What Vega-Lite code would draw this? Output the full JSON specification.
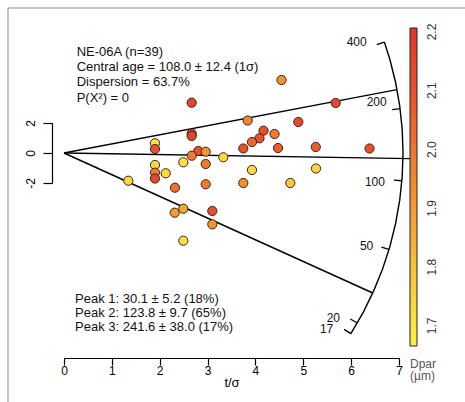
{
  "$schema": "https://vega.github.io/schema/vega-lite/v6.json",
  "width": 335,
  "height": 60,
  "autosize": {"type": "none"},
  "padding": {"left": 64, "top": 123, "right": 66, "bottom": 219},
  "background": "white",
  "config": {
    "view": {"stroke": null},
    "font": "Liberation Sans",
    "text": {"font": "Liberation Sans"},
    "style": {"guide-label": {"angle": -90}}
  },
  "datasets": {
    "grains": [
      {"x": 2.668, "y": 3.353, "dpar": 2.17},
      {"x": 4.545, "y": 4.867, "dpar": 1.93},
      {"x": 5.677, "y": 3.333, "dpar": 2.15},
      {"x": 3.838, "y": 2.167, "dpar": 1.97},
      {"x": 4.896, "y": 2.067, "dpar": 2.15},
      {"x": 4.169, "y": 1.487, "dpar": 2.13},
      {"x": 4.399, "y": 1.267, "dpar": 2.0},
      {"x": 4.085, "y": 0.98, "dpar": 2.12},
      {"x": 3.928, "y": 0.733, "dpar": 2.05},
      {"x": 3.747, "y": 0.3, "dpar": 2.12},
      {"x": 4.472, "y": 0.333, "dpar": 2.08},
      {"x": 5.261, "y": 0.4, "dpar": 2.07},
      {"x": 6.384, "y": 0.3, "dpar": 2.13},
      {"x": 2.668, "y": 1.3, "dpar": 2.2},
      {"x": 2.668, "y": 1.133, "dpar": 2.17},
      {"x": 1.901, "y": 0.647, "dpar": 1.73},
      {"x": 1.901, "y": 0.267, "dpar": 2.12},
      {"x": 2.806, "y": 0.133, "dpar": 2.12},
      {"x": 2.961, "y": 0.087, "dpar": 1.93},
      {"x": 2.668, "y": -0.18, "dpar": 2.0},
      {"x": 3.329, "y": -0.287, "dpar": 1.75},
      {"x": 2.493, "y": -0.62, "dpar": 1.73},
      {"x": 2.961, "y": -0.733, "dpar": 2.0},
      {"x": 1.901, "y": -0.8, "dpar": 1.75},
      {"x": 1.901, "y": -1.313, "dpar": 2.0},
      {"x": 1.901, "y": -1.7, "dpar": 2.15},
      {"x": 2.125, "y": -1.353, "dpar": 1.74},
      {"x": 3.928, "y": -1.133, "dpar": 1.75},
      {"x": 5.266, "y": -1.033, "dpar": 1.76},
      {"x": 2.319, "y": -2.313, "dpar": 2.03},
      {"x": 2.961, "y": -2.087, "dpar": 2.0},
      {"x": 3.747, "y": -2.0, "dpar": 1.95},
      {"x": 4.729, "y": -2.0, "dpar": 1.8},
      {"x": 2.313, "y": -3.98, "dpar": 1.92},
      {"x": 2.493, "y": -3.713, "dpar": 1.88},
      {"x": 3.099, "y": -3.867, "dpar": 2.12},
      {"x": 3.099, "y": -4.753, "dpar": 1.93},
      {"x": 2.493, "y": -5.847, "dpar": 1.73},
      {"x": 1.344, "y": -1.847, "dpar": 1.75}
    ],
    "segments": [
      {"x": 0, "y": 0, "x2": 6.959, "y2": 4.226},
      {"x": 0, "y": 0, "x2": 7.23, "y2": -0.375},
      {"x": 0, "y": 0, "x2": 6.452, "y2": -9.334},
      {"x": 6.694, "y": 7.395, "x2": 6.536, "y2": 7.22},
      {"x": 7.023, "y": 2.958, "x2": 6.857, "y2": 2.888},
      {"x": 7.06, "y": -1.851, "x2": 6.893, "y2": -1.807},
      {"x": 6.792, "y": -6.423, "x2": 6.632, "y2": -6.271},
      {"x": 6.129, "y": -11.334, "x2": 5.984, "y2": -11.066},
      {"x": 5.994, "y": -12.044, "x2": 5.853, "y2": -11.759}
    ],
    "frame": [
      {"x": -1.17, "y": 9.667, "x2": -1.17, "y2": -16.6},
      {"x": -1.17, "y": 9.667, "x2": 8.38, "y2": 9.667}
    ],
    "arc": [
      {"o": 1, "x": 6.694, "y": 7.395},
      {"o": 2, "x": 6.81, "y": 6.229},
      {"o": 3, "x": 6.929, "y": 4.699},
      {"o": 4, "x": 7.015, "y": 3.146},
      {"o": 5, "x": 7.067, "y": 1.577},
      {"o": 6, "x": 7.084, "y": 0},
      {"o": 7, "x": 7.067, "y": -1.577},
      {"o": 8, "x": 7.015, "y": -3.146},
      {"o": 9, "x": 6.929, "y": -4.699},
      {"o": 10, "x": 6.81, "y": -6.229},
      {"o": 11, "x": 6.657, "y": -7.729},
      {"o": 12, "x": 6.471, "y": -9.192},
      {"o": 13, "x": 6.255, "y": -10.611},
      {"o": 14, "x": 5.994, "y": -12.044}
    ],
    "arcLabels": [
      {"label": "400", "x": 6.325, "y": 7.42},
      {"label": "200", "x": 6.743, "y": 3.367},
      {"label": "100", "x": 6.707, "y": -1.933},
      {"label": "50", "x": 6.463, "y": -6.2},
      {"label": "20", "x": 5.767, "y": -11.033},
      {"label": "17", "x": 5.627, "y": -11.733}
    ],
    "notes": [
      {"label": "NE-06A (n=39)", "x": 0.265, "y": 6.753},
      {"label": "Central age = 108.0 ± 12.4 (1σ)", "x": 0.265, "y": 5.753},
      {"label": "Dispersion = 63.7%", "x": 0.265, "y": 4.753},
      {"label": "P(X²) = 0", "x": 0.265, "y": 3.67},
      {"label": "Peak 1: 30.1 ± 5.2 (18%)", "x": 0.23, "y": -9.753},
      {"label": "Peak 2: 123.8 ± 9.7 (65%)", "x": 0.23, "y": -10.687},
      {"label": "Peak 3: 241.6 ± 38.0 (17%)", "x": 0.23, "y": -11.62}
    ]
  },
  "encoding": {
    "x": {
      "field": "x",
      "type": "quantitative",
      "scale": {"domain": [0, 7], "nice": false, "zero": false},
      "axis": {
        "title": "t/σ",
        "offset": 175,
        "values": [0, 1, 2, 3, 4, 5, 6, 7],
        "format": "d",
        "grid": false,
        "tickSize": 7,
        "tickWidth": 1.2,
        "tickColor": "#000",
        "domainColor": "#000",
        "domainWidth": 1.2,
        "labelAngle": 0,
        "labelPadding": 0,
        "labelFontSize": 12,
        "labelColor": "#000",
        "labelFlush": false,
        "titleFontSize": 13,
        "titleFontWeight": "normal",
        "titleColor": "#000",
        "titlePadding": 0
      }
    },
    "y": {
      "field": "y",
      "type": "quantitative",
      "scale": {"domain": [-2, 2], "nice": false, "zero": false},
      "axis": {
        "title": null,
        "offset": 12,
        "values": [-2, 0, 2],
        "grid": false,
        "tickSize": 9,
        "tickWidth": 1.2,
        "tickColor": "#000",
        "domainColor": "#000",
        "domainWidth": 1.2,
        "labelAngle": -90,
        "labelAlign": "center",
        "labelBaseline": "bottom",
        "labelPadding": 6,
        "labelFontSize": 12,
        "labelColor": "#000",
        "labelExpr": "datum.value < 0 ? '-' + abs(datum.value) : '' + datum.value"
      }
    }
  },
  "layer": [
    {
      "data": {"name": "frame"},
      "mark": {"type": "rule", "color": "#888", "strokeWidth": 1},
      "encoding": {"x2": {"field": "x2"}, "y2": {"field": "y2"}}
    },
    {
      "data": {"name": "segments"},
      "mark": {"type": "rule", "color": "#000", "strokeWidth": 1.4},
      "encoding": {"x2": {"field": "x2"}, "y2": {"field": "y2"}}
    },
    {
      "data": {"name": "arc"},
      "mark": {"type": "line", "color": "#000", "strokeWidth": 1.4},
      "encoding": {"order": {"field": "o", "type": "quantitative"}}
    },
    {
      "data": {"name": "arcLabels"},
      "mark": {"type": "text", "align": "right", "baseline": "middle", "fontSize": 12, "color": "#111"},
      "encoding": {"text": {"field": "label"}}
    },
    {
      "data": {"name": "notes"},
      "mark": {"type": "text", "align": "left", "baseline": "middle", "fontSize": 13, "color": "#111"},
      "encoding": {"text": {"field": "label"}}
    },
    {
      "data": {"name": "grains"},
      "mark": {"type": "circle", "size": 85, "opacity": 1, "stroke": "#3a2418", "strokeWidth": 1},
      "encoding": {
        "color": {
          "field": "dpar",
          "type": "quantitative",
          "scale": {
            "domain": [1.68, 1.8, 1.9, 2.0, 2.1, 2.221],
            "range": ["#fbf04a", "#f8c83c", "#f5a036", "#ef7a30", "#e8542d", "#e0382a"]
          },
          "legend": {
            "orient": "none",
            "legendX": 346,
            "legendY": -95,
            "direction": "vertical",
            "padding": 0,
            "gradientLength": 318,
            "gradientThickness": 7,
            "gradientStrokeColor": "#222",
            "gradientStrokeWidth": 1,
            "values": [1.7, 1.8, 1.9, 2.0, 2.1, 2.2],
            "format": ".1f",
            "labelOffset": 15,
            "labelAlign": "center",
            "labelBaseline": "top",
            "labelFontSize": 12,
            "labelColor": "#333",
            "labelOverlap": false,
            "title": ["Dpar", "(µm)"],
            "titleOrient": "bottom",
            "titleFontSize": 12,
            "titleFontWeight": "normal",
            "titleColor": "#555",
            "titlePadding": 12,
            "titleAlign": "left",
            "titleLineHeight": 12
          }
        }
      }
    }
  ]
}
